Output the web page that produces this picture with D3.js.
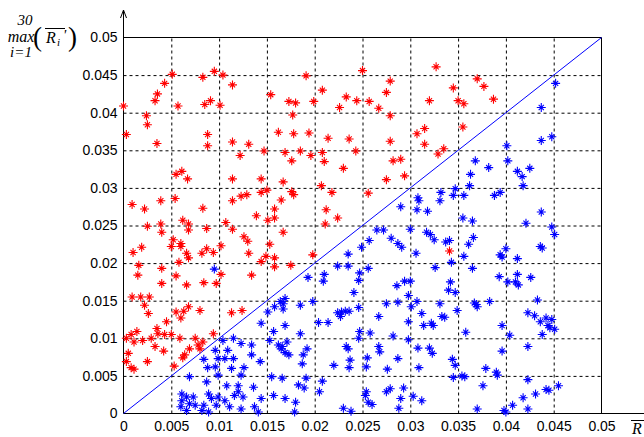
<!DOCTYPE html>
<html>
<head>
<meta charset="utf-8">
<title>max R scatter</title>
<style>
  body { margin: 0; background: #fff; }
  svg text { font-family: "Liberation Sans", Arial, sans-serif; }
  .lbl { font-family: "Liberation Serif", "Times New Roman", serif !important; font-style: italic; }
</style>
</head>
<body>
<div id="chart"></div>
<script src="https://cdnjs.cloudflare.com/ajax/libs/d3/7.8.5/d3.min.js"></script>
<script>
// tick values / labels
var tickValues = [0, 0.005, 0.01, 0.015, 0.02, 0.025, 0.03, 0.035, 0.04, 0.045, 0.05];
var tickLabels = ["0", "0.005", "0.01", "0.015", "0.02", "0.025", "0.03", "0.035", "0.04", "0.045", "0.05"];
var diagonal = [[0, 0], [0.05, 0.05]];

// points above the diagonal (red)
var redPoints = [
  [0.0051,0.0451],[0.0043,0.0439],[0.00355,0.0425],[0.0033,0.0416],[0.0,0.0409],[0.0057,0.0409],[0.0083,0.0447],
  [0.0095,0.0455],[0.0104,0.045],[0.0114,0.0437],[0.0085,0.0411],[0.0091,0.0416],[0.0101,0.041],[0.0024,0.0396],
  [0.0025,0.0384],[0.0003,0.0371],[0.0035,0.0359],[0.0088,0.0371],[0.0088,0.0356],[0.0114,0.0361],[0.0131,0.0358],
  [0.0122,0.0343],[0.0147,0.0349],[0.0154,0.0424],[0.0162,0.0374],[0.0169,0.0347],
  [0.0191,0.0449],[0.0208,0.043],[0.0173,0.0415],[0.018,0.0413],[0.0199,0.0415],[0.0177,0.0397],[0.0178,0.0372],
  [0.0194,0.0373],[0.0214,0.0366],[0.0176,0.0336],[0.0185,0.0349],[0.0196,0.0343],[0.0208,0.0347],[0.021,0.0335],
  [0.0226,0.0407],[0.0233,0.0421],[0.0244,0.0416],[0.025,0.0456],[0.0257,0.0415],[0.0267,0.0406],[0.0275,0.0427],
  [0.0279,0.0442],[0.0279,0.0396],[0.0236,0.0365],[0.0243,0.0349],[0.0279,0.0362],[0.0282,0.0336],[0.029,0.0338],
  [0.0307,0.0372],[0.0315,0.0379],[0.0315,0.0358],[0.032,0.0416],[0.0327,0.0461],[0.0329,0.0345],[0.0335,0.0352],
  [0.0345,0.0433],[0.037,0.0445],[0.0377,0.0435],[0.035,0.0416],[0.0356,0.0412],[0.0387,0.0418],[0.0355,0.0381],
  [0.0055,0.0318],[0.0061,0.0322],[0.0067,0.0312],[0.0114,0.0312],[0.0144,0.0312],[0.0167,0.0308],[0.0009,0.0278],
  [0.0022,0.0272],[0.0039,0.0283],[0.0054,0.0286],[0.0083,0.0273],[0.0114,0.0283],[0.0123,0.0289],[0.0129,0.0291],
  [0.0144,0.0294],[0.015,0.0297],[0.0165,0.0284],[0.0158,0.0272],[0.0139,0.0263],[0.0151,0.0257],[0.0158,0.026],
  [0.0167,0.0241],[0.0062,0.0257],[0.0068,0.0252],[0.0068,0.0244],[0.0025,0.0249],[0.0039,0.0252],[0.004,0.0241],
  [0.0087,0.0246],[0.0107,0.0254],[0.0114,0.0245],[0.0126,0.0235],[0.013,0.0229],[0.0052,0.0231],[0.005,0.0222],
  [0.006,0.0226],[0.006,0.0222],[0.0019,0.0221],[0.001,0.0214],[0.0066,0.0213],[0.0068,0.0207],[0.0082,0.0213],
  [0.0087,0.0219],[0.0094,0.0214],[0.0102,0.0223],[0.0131,0.0213],[0.0153,0.0225],[0.0149,0.0209],[0.0158,0.0207],
  [0.0144,0.0202],[0.0158,0.0195],[0.0058,0.0201],[0.0016,0.0197],[0.004,0.0193],[0.0015,0.0184],[0.0055,0.0183],
  [0.0102,0.0185],[0.0134,0.0184],
  [0.023,0.0326],[0.0275,0.0311],[0.0294,0.0316],[0.0207,0.0303],[0.0218,0.0294],[0.0176,0.0295],[0.0178,0.0291],
  [0.0256,0.0293],[0.0212,0.0271],[0.0224,0.026],[0.0211,0.0252],[0.0198,0.0211],[0.0175,0.0197],[0.0341,0.0216],
  [0.004,0.0173],[0.0066,0.0171],[0.0084,0.0174],[0.0097,0.0173],[0.0009,0.0155],[0.0018,0.0155],[0.0027,0.0155],
  [0.0022,0.0144],[0.0026,0.0133],[0.0055,0.0135],[0.006,0.0127],[0.0063,0.0136],[0.0068,0.0142],[0.008,0.0137],
  [0.0113,0.0134],[0.0124,0.0137],[0.0045,0.0122],[0.0035,0.0113],[0.0036,0.0106],[0.0043,0.0105],[0.005,0.0105],
  [0.0014,0.0109],[0.0008,0.0105],[0.0003,0.01],[0.0011,0.0095],[0.002,0.0097],[0.0029,0.01],[0.0033,0.0089],
  [0.0042,0.0083],[0.0005,0.008],[0.0003,0.0069],[0.0008,0.0061],[0.0011,0.0059],[0.0025,0.0069],[0.0053,0.0063],
  [0.0062,0.0074],[0.0064,0.0078],[0.0059,0.01],[0.0075,0.01],[0.0069,0.0086],[0.0078,0.0091],[0.008,0.0086],
  [0.0083,0.0095],[0.0094,0.0106]
];

// points below the diagonal (blue)
var bluePoints = [
  [0.0452,0.0439],[0.0437,0.0407],[0.0437,0.0363],[0.0448,0.0368],[0.0401,0.0356],[0.0368,0.0336],[0.0402,0.0336],
  [0.0095,0.0192],
  [0.0308,0.0287],[0.0309,0.0283],[0.0332,0.0294],[0.0331,0.0283],[0.029,0.0275],[0.0307,0.0271],[0.0318,0.0269],
  [0.0265,0.0244],[0.0272,0.0244],[0.03,0.0245],[0.0317,0.0241],[0.0321,0.0238],[0.0325,0.0231],[0.0257,0.023],
  [0.028,0.0233],[0.0287,0.0226],[0.0291,0.0221],[0.0249,0.0221],[0.0235,0.0212],[0.0306,0.0213],[0.0337,0.0228],
  [0.0341,0.023],[0.0224,0.0196],[0.0235,0.0196],[0.0256,0.0193],[0.0326,0.0194],[0.0247,0.0187],[0.021,0.0185],
  [0.0193,0.0181],
  [0.0382,0.0327],[0.0363,0.0318],[0.0362,0.0303],[0.0412,0.0322],[0.0417,0.0315],[0.0425,0.0326],[0.0418,0.0303],
  [0.0347,0.0299],[0.0345,0.029],[0.0356,0.029],[0.0388,0.029],[0.0394,0.0294],[0.0437,0.0268],[0.0355,0.026],
  [0.0365,0.0256],[0.0421,0.0253],[0.0448,0.0248],[0.0451,0.0238],[0.0366,0.0234],[0.0361,0.0225],[0.0436,0.0222],
  [0.0438,0.022],[0.04,0.0219],[0.0394,0.0211],[0.0396,0.0208],[0.0412,0.0206],[0.0356,0.0209],[0.0343,0.0201],
  [0.0365,0.0193],[0.0393,0.0182],[0.0412,0.0185],[0.0426,0.0181],
  [0.0164,0.0149],[0.0158,0.0142],[0.0151,0.0135],[0.0144,0.012],[0.0157,0.0109],[0.0153,0.0097],[0.0162,0.0091],
  [0.0165,0.0086],[0.0104,0.0097],[0.0115,0.01],[0.0123,0.0093],[0.0134,0.0091],[0.0096,0.0084],[0.0109,0.0084],
  [0.0099,0.0073],[0.0106,0.0073],[0.0115,0.0073],[0.0134,0.0078],[0.0084,0.0072],[0.0088,0.0061],[0.0096,0.0062],
  [0.0099,0.0051],[0.0113,0.006],[0.0126,0.0061],[0.0143,0.0069],[0.0069,0.0049],[0.0087,0.0042],[0.0108,0.0037],
  [0.012,0.0037],[0.0136,0.0035],[0.0123,0.0051],[0.0155,0.0049],[0.0061,0.0026],[0.0061,0.0017],[0.006,0.0009],
  [0.0066,0.0022],[0.0073,0.0022],[0.0069,0.0013],[0.0075,0.0011],[0.0066,0.0004],[0.0084,0.0011],[0.0089,0.0026],
  [0.0092,0.002],[0.0099,0.0022],[0.0097,0.0011],[0.0106,0.0017],[0.0111,0.0009],[0.0116,0.0024],[0.012,0.0029],
  [0.0125,0.0022],[0.0123,0.0006],[0.0137,0.0009],[0.0144,0.002],[0.0157,0.0024],[0.0089,0.0002],[0.0082,0.0004],
  [0.0141,0.0002],
  [0.0209,0.0176],[0.0246,0.0177],[0.0294,0.0176],[0.03,0.0176],[0.0286,0.017],[0.0241,0.0161],[0.0298,0.0157],
  [0.0169,0.0153],[0.0167,0.0146],[0.0167,0.0139],[0.0185,0.0144],[0.0198,0.0149],[0.0224,0.0134],[0.0228,0.0135],
  [0.0232,0.0136],[0.0236,0.0136],[0.0227,0.0129],[0.0246,0.0141],[0.0275,0.0146],[0.0287,0.0148],[0.0307,0.0149],
  [0.0301,0.0142],[0.0331,0.0146],[0.0333,0.0129],[0.0312,0.0133],[0.0267,0.0129],[0.0298,0.0122],[0.0314,0.0117],
  [0.0322,0.012],[0.0324,0.0117],[0.0204,0.0121],[0.0214,0.0121],[0.0169,0.0117],[0.0185,0.0106],[0.0247,0.0109],
  [0.0258,0.0107],[0.0246,0.01],[0.0282,0.0103],[0.0298,0.0098],[0.0171,0.0095],[0.0166,0.0089],[0.0169,0.0081],
  [0.0173,0.0078],[0.0192,0.0086],[0.0188,0.0078],[0.0187,0.0066],[0.0233,0.0089],[0.0235,0.0086],[0.0267,0.0089],
  [0.0268,0.0082],[0.0255,0.0074],[0.0287,0.0073],[0.0308,0.0087],[0.032,0.0087],[0.0323,0.008],[0.0237,0.0071],
  [0.0236,0.0061],[0.022,0.0064],[0.0254,0.0062],[0.0276,0.0059],[0.0309,0.0061],[0.0166,0.0047],[0.0191,0.0047],
  [0.0208,0.0043],[0.0183,0.0038],[0.0189,0.0034],[0.0205,0.0029],[0.0254,0.0029],[0.0253,0.0024],[0.0275,0.0029],
  [0.0279,0.0033],[0.0293,0.0034],[0.029,0.002],[0.0303,0.0023],[0.0312,0.0017],[0.0256,0.0015],[0.026,0.0012],
  [0.0169,0.002],[0.018,0.0015],[0.0179,0.0002],[0.023,0.0007],[0.0238,0.0003],[0.0288,0.0007],
  [0.0342,0.0175],[0.034,0.0164],[0.0347,0.0161],[0.0402,0.0175],[0.041,0.0175],[0.0413,0.0171],[0.0369,0.0145],
  [0.037,0.0142],[0.0367,0.0147],[0.0383,0.0149],[0.0349,0.0137],[0.0336,0.0128],[0.0358,0.0108],[0.0396,0.0117],
  [0.0404,0.0104],[0.0433,0.0151],[0.0423,0.0134],[0.043,0.013],[0.0436,0.0122],[0.0442,0.0127],[0.0448,0.0125],
  [0.0444,0.0117],[0.0446,0.0114],[0.0451,0.0112],[0.0438,0.0105],[0.0423,0.0089],[0.0396,0.0083],[0.0344,0.0072],
  [0.0347,0.0064],[0.0345,0.0048],[0.0354,0.005],[0.0357,0.0049],[0.0379,0.006],[0.039,0.0055],[0.0391,0.0051],
  [0.0376,0.0037],[0.0423,0.0045],[0.0455,0.0037],[0.0442,0.0032],[0.0445,0.0031],[0.0431,0.0026],[0.0418,0.0021],
  [0.0407,0.0011],[0.0423,0.0006],[0.0398,0.0004],[0.04,0.0002],[0.037,0.0006]
];

var W = 644, H = 437;
var pLeft = 123.5, pRight = 601.5, pTop = 37.5, pBottom = 413.5;

var svg = d3.select("#chart").append("svg")
    .attr("width", W)
    .attr("height", H);

var x = d3.scaleLinear().domain([0, 0.05]).range([pLeft, pRight]);
var y = d3.scaleLinear().domain([0, 0.05]).range([pBottom, pTop]);

// dashed grid
svg.append("g")
    .attr("transform", "translate(0," + pBottom + ")")
    .call(d3.axisBottom(x).tickValues(tickValues.slice(1, -1)).tickSize(-(pBottom - pTop)).tickFormat(""))
    .call(g => g.select(".domain").remove())
    .selectAll("line").attr("stroke", "#000").attr("stroke-dasharray", "3,3");

svg.append("g")
    .attr("transform", "translate(" + pLeft + ",0)")
    .call(d3.axisLeft(y).tickValues(tickValues.slice(1, -1)).tickSize(-(pRight - pLeft)).tickFormat(""))
    .call(g => g.select(".domain").remove())
    .selectAll("line").attr("stroke", "#000").attr("stroke-dasharray", "3,3");

// tick labels
var xAxis = svg.append("g")
    .attr("transform", "translate(0," + pBottom + ")")
    .call(d3.axisBottom(x).tickValues(tickValues).tickSize(0).tickPadding(8)
        .tickFormat((d, i) => tickLabels[i]));
xAxis.select(".domain").remove();
xAxis.selectAll("text").attr("font-size", 14).attr("fill", "#000").style("font-family", "'Liberation Sans', Arial, sans-serif");

var yAxis = svg.append("g")
    .attr("transform", "translate(" + pLeft + ",0)")
    .call(d3.axisLeft(y).tickValues(tickValues).tickSize(0).tickPadding(6)
        .tickFormat((d, i) => tickLabels[i]));
yAxis.select(".domain").remove();
yAxis.selectAll("text").attr("font-size", 14).attr("fill", "#000").style("font-family", "'Liberation Sans', Arial, sans-serif");

// box: top + right
svg.append("path")
    .attr("d", "M" + pLeft + "," + pTop + "H" + pRight + "V" + pBottom)
    .attr("fill", "none").attr("stroke", "#000").attr("stroke-width", 1);

// x axis line running off to the right
svg.append("line")
    .attr("x1", pLeft).attr("x2", W).attr("y1", pBottom).attr("y2", pBottom)
    .attr("stroke", "#000");

// y axis with arrow
svg.append("line")
    .attr("x1", pLeft).attr("x2", pLeft).attr("y1", pBottom).attr("y2", 10)
    .attr("stroke", "#000");
svg.append("path")
    .attr("d", "M" + (pLeft - 3) + ",18L" + pLeft + ",10L" + (pLeft + 3) + ",18")
    .attr("fill", "none").attr("stroke", "#000");

// diagonal
svg.append("path")
    .datum(diagonal)
    .attr("d", d3.line().x(d => x(d[0])).y(d => y(d[1])))
    .attr("stroke", "#0000ff").attr("stroke-width", 1).attr("fill", "none");

// star marker (MATLAB '*')
var star = "M-4.5,0H4.5M0,-4.5V4.5M-2.6,-2.6L2.6,2.6M-2.6,2.6L2.6,-2.6";

function drawStars(data, color) {
  svg.append("g").selectAll("path")
    .data(data)
    .join("path")
    .attr("transform", d => "translate(" + x(d[0]) + "," + y(d[1]) + ")")
    .attr("d", star)
    .attr("fill", "none")
    .attr("stroke", color)
    .attr("stroke-width", 1.1);
}
drawStars(redPoints, "#ff0000");
drawStars(bluePoints, "#0000ff");

// y label: max over i=1..30 of mean R_i'
var yl = svg.append("g").attr("fill", "#000");
yl.append("text").attr("class", "lbl").attr("x", 25).attr("y", 25).attr("text-anchor", "middle").attr("font-size", 15).text("30");
yl.append("text").attr("class", "lbl").attr("x", 21).attr("y", 42).attr("text-anchor", "middle").attr("font-size", 16).text("max");
yl.append("text").attr("class", "lbl").attr("x", 21).attr("y", 57).attr("text-anchor", "middle").attr("font-size", 15).text("i=1");
yl.append("text").attr("class", "lbl").attr("x", 33).attr("y", 46).attr("font-size", 27).style("font-style", "normal").text("(");
yl.append("text").attr("class", "lbl").attr("x", 46).attr("y", 43).attr("font-size", 16).text("R");
yl.append("text").attr("class", "lbl").attr("x", 57).attr("y", 46).attr("font-size", 11).text("i");
yl.append("text").attr("class", "lbl").attr("x", 63).attr("y", 40).attr("font-size", 15).text("'");
yl.append("text").attr("class", "lbl").attr("x", 68).attr("y", 46).attr("font-size", 27).style("font-style", "normal").text(")");
yl.append("line").attr("x1", 45).attr("x2", 65).attr("y1", 28.5).attr("y2", 28.5).attr("stroke", "#000");

// x label (cut off at the right edge)
svg.append("text").attr("class", "lbl").attr("x", 632).attr("y", 434).attr("font-size", 16).text("R");
svg.append("line").attr("x1", 631).attr("x2", 644).attr("y1", 420.5).attr("y2", 420.5).attr("stroke", "#000");
</script>
</body>
</html>
